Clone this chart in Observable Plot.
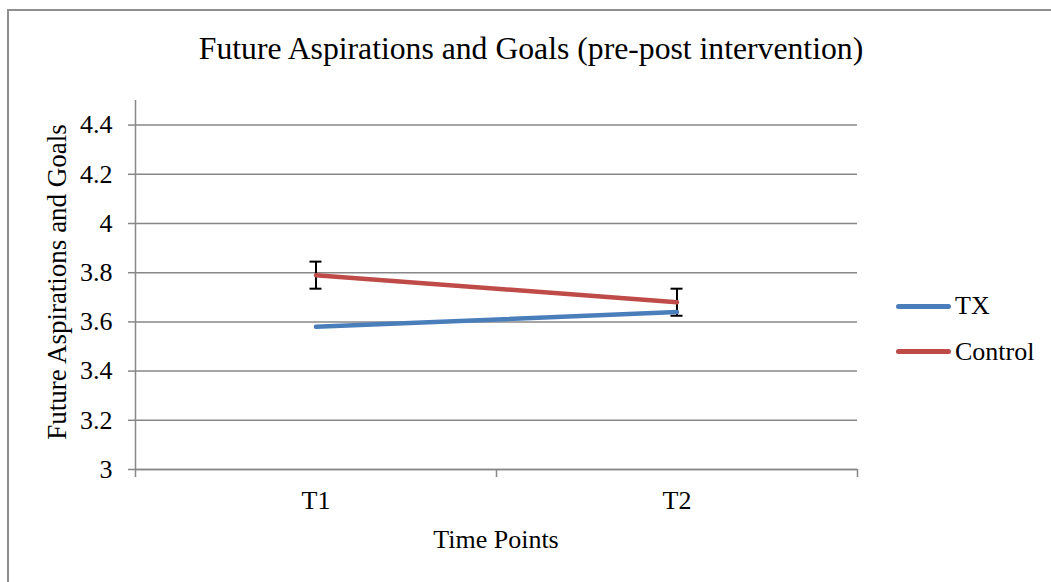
<!DOCTYPE html>
<html>
<head>
<meta charset="utf-8">
<script src="https://cdn.jsdelivr.net/npm/d3@7"></script>
<script src="https://cdn.jsdelivr.net/npm/@observablehq/plot@0.6"></script>
<style>
  html, body { margin: 0; padding: 0; background: #fff; overflow: hidden; }
  #wrap { position: relative; width: 1051px; height: 582px; overflow: hidden; font-family: "Liberation Serif", "Times New Roman", serif; color: #000; }
  #frame { position: absolute; left: 7px; top: 9px; width: 1200px; height: 800px; border: 2px solid #8f8f8f; }
  .txt { position: absolute; white-space: nowrap; line-height: 1; }
  #title { font-size: 31.7px; top: 33px; left: 531px; transform: translateX(-50%); }
  #xlabel { font-size: 26px; top: 527px; left: 496px; transform: translateX(-50%); }
  #ylabel { font-size: 27px; top: 282px; left: 57px; transform: translate(-50%, -50%) rotate(-90deg); }
  .legline { position: absolute; width: 55px; height: 5px; border-radius: 3px; left: 896px; }
  .legtxt { font-size: 26px; left: 955px; }
  #chart { position: absolute; left: 0; top: 0; }
</style>
</head>
<body>
<div id="wrap">
  <div id="frame"></div>
  <div id="chart"></div>
  <div class="txt" id="title">Future Aspirations and Goals (pre-post intervention)</div>
  <div class="txt" id="xlabel">Time Points</div>
  <div class="txt" id="ylabel">Future Aspirations and Goals</div>
  <div id="legend"></div>
</div>
<script>
// ---- data ----
const timePoints = ["T1", "T2"];
const seriesNames = ["TX", "Control"];
const txValues = [3.58, 3.64];
const controlValues = [3.79, 3.68];
const controlErrors = [0.055, 0.055];
const yTicks = [3, 3.2, 3.4, 3.6, 3.8, 4, 4.2, 4.4];
const colors = ["#4A7EBB", "#BE4B48"];

// ---- tables built from the arrays ----
const rows = [];
timePoints.forEach((t, i) => {
  rows.push({time: t, idx: i + 0.5, series: "TX", value: txValues[i]});
  rows.push({time: t, idx: i + 0.5, series: "Control", value: controlValues[i]});
});
const errRows = timePoints.map((t, i) => ({time: t, idx: i + 0.5, value: controlValues[i], err: controlErrors[i]}));

const font = "Liberation Serif, Times New Roman, serif";
const gridColor = "#878787";

const chart = Plot.plot({
  width: 1051,
  height: 582,
  marginLeft: 135,
  marginRight: 194,
  marginTop: 100,
  marginBottom: 113,
  style: {fontFamily: font, color: "#000", background: "transparent", overflow: "visible"},
  x: {type: "linear", domain: [0, timePoints.length]},
  y: {type: "linear", domain: [3, 4.5]},
  color: {domain: seriesNames, range: colors},
  marks: [
    Plot.gridY(yTicks, {stroke: gridColor, strokeOpacity: 1, strokeWidth: 1.5}),
    Plot.ruleX([0], {stroke: gridColor, strokeWidth: 1.5}),
    Plot.ruleY([3], {stroke: gridColor, strokeWidth: 1.5}),
    Plot.axisY({ticks: yTicks, tickSize: 7, tickPadding: 16, stroke: gridColor, strokeWidth: 1.5, fontSize: 26, fill: "#000",
      tickFormat: d => String(+d.toFixed(1)), label: null}),
    Plot.axisX({ticks: d3.range(timePoints.length + 1), tickSize: 8, stroke: gridColor, strokeWidth: 1.5, tickFormat: () => "", label: null}),
    Plot.axisX({ticks: timePoints.map((t, i) => i + 0.5), tickSize: 0, tickPadding: 21, fontSize: 26, fill: "#000",
      tickFormat: d => timePoints[Math.floor(d)], label: null}),
    // error bars
    Plot.ruleX(errRows, {x: "idx", y1: d => d.value - d.err, y2: d => d.value + d.err, stroke: "#000", strokeWidth: 2}),
    Plot.ruleY(errRows, {y: d => d.value + d.err, x1: "idx", x2: "idx", insetLeft: -6, insetRight: -6, stroke: "#000", strokeWidth: 2}),
    Plot.ruleY(errRows, {y: d => d.value - d.err, x1: "idx", x2: "idx", insetLeft: -6, insetRight: -6, stroke: "#000", strokeWidth: 2}),
    // lines
    Plot.line(rows, {x: "idx", y: "value", z: "series", stroke: "series", strokeWidth: 4.5, strokeLinecap: "round"})
  ]
});
document.getElementById("chart").appendChild(chart);

// legend
const legend = document.getElementById("legend");
const legTops = [306 - 2.5, 351 - 2.5];
const legTextTops = [293, 339];
seriesNames.forEach((s, i) => {
  const ln = document.createElement("div");
  ln.className = "legline";
  ln.style.top = legTops[i] + "px";
  ln.style.background = colors[i];
  legend.appendChild(ln);
  const tx = document.createElement("div");
  tx.className = "txt legtxt";
  tx.style.top = legTextTops[i] + "px";
  tx.textContent = s;
  legend.appendChild(tx);
});
</script>
</body>
</html>
